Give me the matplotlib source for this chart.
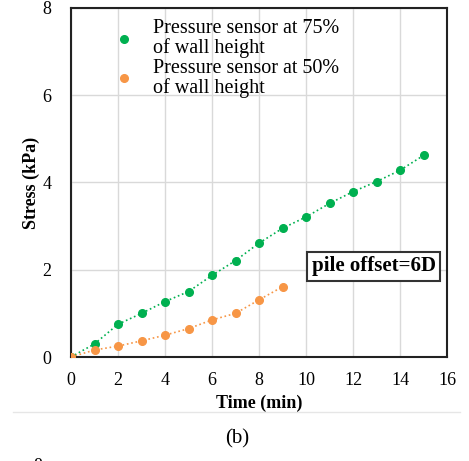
import matplotlib.pyplot as plt

plt.rcParams['font.family'] = ['Liberation Serif', 'DejaVu Serif']

# Tiempo (min) y esfuerzo (kPa) de cada sensor
tiempo_75 = [0, 1, 2, 3, 4, 5, 6, 7, 8, 9, 10, 11, 12, 13, 14, 15]
esfuerzo_75 = [0, 0.30, 0.75, 1.00, 1.27, 1.50, 1.87, 2.21, 2.61, 2.95,
               3.21, 3.52, 3.79, 4.02, 4.28, 4.62]
tiempo_50 = [0, 1, 2, 3, 4, 5, 6, 7, 8, 9]
esfuerzo_50 = [0, 0.16, 0.25, 0.37, 0.50, 0.65, 0.85, 1.00, 1.31, 1.61]

etiquetas = ["Pressure sensor at 75%\nof wall height",
             "Pressure sensor at 50%\nof wall height"]
verde = '#00b050'
naranja = '#f79646'

fig = plt.figure(figsize=(4.69, 4.61), dpi=100)
ax = fig.add_axes([71 / 469, 1 - 357 / 461, 376 / 469, 349 / 461])

ax.plot(tiempo_75, esfuerzo_75, linestyle='none', marker='o', ms=5.5,
        color=verde, label=etiquetas[0], zorder=3)
ax.plot(tiempo_50, esfuerzo_50, linestyle='none', marker='o', ms=5.5,
        color=naranja, label=etiquetas[1], zorder=3)
# lineas de tendencia punteadas
ax.plot(tiempo_75, esfuerzo_75, linestyle=':', lw=1.2, color=verde, zorder=2)
ax.plot(tiempo_50, esfuerzo_50, linestyle=':', lw=1.2, color=naranja, zorder=2)

ax.set_xlim(0, 16)
ax.set_ylim(0, 8)
ax.set_xticks(range(0, 17, 2))
ax.set_yticks(range(0, 9, 2))
ax.tick_params(length=0, labelsize=13)
ax.tick_params(axis='x', pad=11)
ax.tick_params(axis='y', pad=14)
ax.grid(True, color='#d9d9d9', lw=1)
ax.set_axisbelow(True)
for s in ax.spines.values():
    s.set_linewidth(1.5)
    s.set_color('#222222')

ax.set_xlabel("Time (min)", fontsize=13, fontweight='bold', labelpad=4)
ax.set_ylabel("Stress (kPa)", fontsize=13, fontweight='bold', labelpad=2)

leg = ax.legend(loc='upper left', bbox_to_anchor=(0.112, 0.968), frameon=False,
                prop={'size': 14.5}, handletextpad=0.9, labelspacing=0.05,
                handlelength=1.1, borderaxespad=0, borderpad=0)
for t in leg.get_texts():
    t.set_linespacing(1.0)

ax.text(0.97, 0.26, "pile offset=6D", transform=ax.transAxes, ha='right',
        va='center', fontsize=15, fontweight='bold',
        bbox=dict(boxstyle='square,pad=0.22', fc='white', ec='#333333', lw=1.5))

# separador y subtitulo de la figura
fig.add_artist(plt.Line2D([13 / 469, 460 / 469], [1 - 412 / 461, 1 - 412 / 461],
                          color='#e6e6e6', lw=1))
fig.text(237 / 469, 1 - 439 / 461, "(b)", ha='center', va='center', fontsize=15)
fig.text(38 / 469, 1 - 466 / 461, "8", ha='center', va='center', fontsize=13)

fig.savefig("out.png", dpi=100)
